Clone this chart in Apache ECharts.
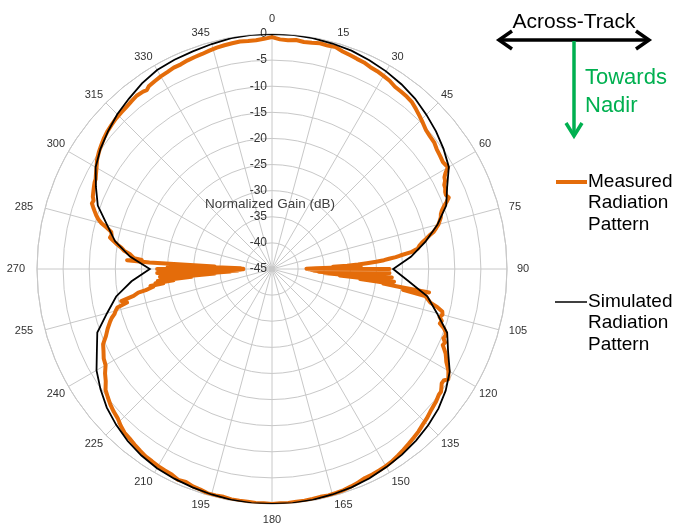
<!DOCTYPE html>
<html>
<head>
<meta charset="utf-8">
<script src="https://cdn.jsdelivr.net/npm/echarts@6/dist/echarts.min.js"></script>
<style>
html,body{margin:0;padding:0;background:#fff;}
#chart{width:677px;height:529px;}
</style>
</head>
<body>
<div id="chart"></div>
<script>
// ---- Data (angle in degrees, gain in dB) ----
const measuredAngle = [0,2,4,6,8,10,12,14,16,18,20,22,24,26,28,30,32,34,36,38,40,42,44,46,48,50,52,54,56,58,60,61,62,63,64,65,66,67,68,69,70,71,72,73,74,75,76,77,78,79,80,81,82,83,84,84.5,85,85.5,86,86.5,87,87.5,88,88.5,89,89.5,90,90.5,91,91.5,92,92.5,93,93.5,94,94.5,95,95.5,96,96.5,97,97.5,98,98.5,99,99.5,100,101,102,103,104,105,106,107,108,109,110,111,112,113,114,115,116,117,118,119,120,121,122,123,124,125,126,127,128,129,130,132,134,136,138,140,142,144,146,148,150,152,154,156,158,160,162,164,166,168,170,172,174,176,178,180,182,184,186,188,190,192,194,196,198,200,202,204,206,208,210,212,214,216,218,220,222,224,226,228,230,232,234,236,238,240,242,244,246,248,250,252,253,254,255,256,257,258,259,260,260.5,261,261.5,262,262.5,263,263.5,264,264.5,265,265.5,266,266.5,267,267.5,268,268.5,269,269.5,270,270.5,271,271.5,272,272.5,273,273.5,274,274.5,275,276,277,278,279,280,281,282,283,284,285,286,287,288,289,290,291,292,293,294,295,296,297,298,300,302,304,306,308,310,312,314,316,318,320,322,324,325,326,328,330,332,334,336,338,340,342,344,346,348,350,352,354,356,358,360];
const measuredGain = [-0.6,-1.0,-1.1,-0.9,-1.1,-1.0,-0.8,-0.9,-0.8,-1.2,-1.4,-1.6,-1.7,-2.0,-2.1,-2.3,-2.5,-2.9,-3.0,-3.1,-3.3,-3.8,-4.3,-4.8,-5.3,-5.5,-5.6,-6.0,-6.2,-6.4,-6.1,-7.0,-7.6,-7.8,-8.3,-8.4,-8.7,-8.8,-8.5,-9.2,-10.0,-10.6,-11.0,-11.2,-11.6,-12.0,-12.6,-13.2,-14.2,-15.0,-15.8,-16.4,-16.8,-18.0,-20.3,-21.2,-22.5,-23.5,-25,-26.8,-28.5,-30.6,-33.3,-28,-36.6,-38.4,-22.5,-38,-23,-37.5,-22.5,-37,-24,-36,-22,-35,-23,-32,-21.5,-28,-22.5,-23.5,-20.5,-14.6,-19.6,-19.4,-15.2,-14.6,-14.0,-12.5,-11.4,-11.2,-11.6,-11.0,-11.2,-10.2,-9.6,-9.4,-9.6,-9.0,-9.2,-8.6,-8.0,-7.6,-7.2,-6.6,-6.0,-5.6,-5.2,-5.8,-5.8,-5.4,-5.0,-5.0,-4.8,-4.6,-4.5,-4.2,-3.8,-3.5,-3.1,-2.8,-2.5,-2.2,-1.9,-1.6,-1.4,-1.3,-1.2,-1.2,-0.9,-0.7,-0.5,-0.4,-0.3,-0.4,-0.3,-0.2,-0.2,-0.1,-0.1,0,-0.1,-0.1,-0.2,-0.2,-0.2,-0.4,-0.3,-0.3,-0.6,-0.7,-1.0,-0.8,-1.2,-1.3,-1.4,-1.6,-1.7,-2.0,-2.3,-2.6,-2.8,-3.3,-3.9,-4.2,-4.6,-5.1,-5.6,-6.6,-7.3,-8.2,-8.5,-9.1,-9.6,-10.7,-11.5,-12.4,-12.9,-13.6,-14.0,-14.5,-16.5,-15.5,-18,-19,-20.5,-20.7,-22,-21.5,-24,-22.5,-26,-23,-29.5,-24,-34,-23.5,-37,-24.5,-38.5,-23,-39,-24,-39.5,-23,-39.5,-25,-39,-26,-34,-21.5,-17.2,-20,-18.5,-18.8,-17.6,-16.5,-15.9,-15,-14.2,-13.4,-13.6,-13.4,-12.4,-11.2,-10.4,-9.8,-9.3,-8.8,-8.3,-8.4,-8.0,-7.8,-7.6,-7.4,-7.2,-7.1,-6.8,-6.2,-5.5,-5.0,-4.6,-4.2,-3.9,-3.7,-3.5,-3.4,-3.3,-3.1,-2.9,-3.0,-3.2,-2.8,-2.6,-2.4,-2.3,-2.1,-2.1,-1.9,-1.8,-1.7,-1.5,-1.3,-1.2,-1.1,-1.0,-1.1,-1.1,-0.9,-0.6];

const simulatedAngle = [0,5,10,15,20,25,30,35,40,45,50,55,60,65,70,75,80,85,90,95,100,105,110,115,120,125,130,135,140,145,150,155,160,165,170,175,180,185,190,195,200,205,210,215,220,225,230,235,240,245,250,255,260,265,270,275,280,285,290,295,300,305,310,315,320,325,330,335,340,345,350,355,360];
const simulatedGain = [0,0,-0.1,-0.3,-0.5,-0.9,-1.3,-1.8,-2.4,-3.2,-4.0,-4.9,-5.9,-8.0,-9.5,-12.2,-15.2,-18.3,-21.8,-18.8,-14.8,-12.3,-9.3,-7.8,-5.7,-4.4,-3.4,-2.7,-2.1,-1.6,-1.2,-0.8,-0.5,-0.3,-0.1,0,0,0,-0.1,-0.3,-0.5,-0.7,-0.95,-1.4,-2.0,-2.8,-3.7,-4.9,-6.2,-8.0,-9.4,-12.3,-14.7,-18.0,-21.6,-17.7,-14.5,-12.3,-9.5,-7.8,-6.0,-4.9,-4.0,-3.1,-2.4,-1.6,-1.0,-0.8,-0.65,-0.4,-0.1,0,0];

const radiusMin = -45, radiusMax = 0, radiusStep = 5;
const angleStep = 15;
const seriesNames = ['Measured Radiation Pattern', 'Simulated Radiation Pattern'];
const axisTitle = 'Normalized Gain (dB)';

// ---- Chart ----
const chart = echarts.init(document.getElementById('chart'), null, {renderer: 'canvas'});
const FONT = '"Liberation Sans", Arial, sans-serif';
const gridColor = '#c8c8c8';
const labelColor = '#333';

const measuredData = measuredAngle.map((a, i) => [measuredGain[i], a]);
const simulatedData = simulatedAngle.map((a, i) => [simulatedGain[i], a]);

// label placement styles (Excel-like offsets)
function angleLabelStyle(v) {
  if (v === 0) return 'top0';
  if (v === 180) return 'bot0';
  if (v === 15 || v === 165) return 'shr';
  if (v === 345 || v === 195) return 'shl';
  if (v === 75 || v === 90 || v === 105) return 'pr';
  if (v === 255 || v === 270 || v === 285) return 'pl';
  return 'n';
}
const base = { color: labelColor, fontSize: 11, fontFamily: FONT };

chart.setOption({
  backgroundColor: '#fff',
  animation: false,
  polar: { center: [272, 269], radius: 235 },
  angleAxis: {
    type: 'value', min: 0, max: 360, interval: angleStep,
    startAngle: 90, clockwise: true,
    axisLine: { show: true, lineStyle: { color: gridColor, width: 1 } },
    axisTick: { show: false },
    splitLine: { show: true, lineStyle: { color: gridColor, width: 1 } },
    axisLabel: {
      margin: 4, color: labelColor, fontSize: 11, fontFamily: FONT,
      formatter: v => (v === 360 ? '' : '{' + angleLabelStyle(v) + '|' + v + '}'),
      rich: {
        n: Object.assign({}, base),
        top0: Object.assign({ padding: [0, 0, 6, 0] }, base),
        bot0: Object.assign({ padding: [6, 0, 0, 0] }, base),
        shr: Object.assign({ padding: [0, 0, 0, 19] }, base),
        shl: Object.assign({ padding: [0, 19, 0, 0] }, base),
        pr: Object.assign({ padding: [0, 0, 0, 6] }, base),
        pl: Object.assign({ padding: [0, 8, 0, 0] }, base)
      }
    }
  },
  radiusAxis: {
    type: 'value', min: radiusMin, max: radiusMax, interval: radiusStep,
    axisLine: { show: false },
    axisTick: { show: false },
    splitLine: { show: true, lineStyle: { color: gridColor, width: 1 } },
    axisLabel: { margin: 5, color: labelColor, fontSize: 12, fontFamily: FONT }
  },
  series: [
    {
      name: seriesNames[0], type: 'line', coordinateSystem: 'polar',
      data: measuredData, symbol: 'none', z: 3,
      lineStyle: { color: '#E46C0A', width: 4, join: 'round', cap: 'round' }
    },
    {
      name: seriesNames[1], type: 'line', coordinateSystem: 'polar',
      data: simulatedData, symbol: 'none', z: 4,
      lineStyle: { color: '#000', width: 1.8, join: 'miter' }
    }
  ],
  graphic: [
    { type: 'text', x: 270, y: 204, z: 10,
      style: { text: axisTitle, font: '13.5px ' + FONT, fill: '#404040', align: 'center', verticalAlign: 'middle' } },
    // Across-track arrow
    { type: 'line', z: 10, shape: { x1: 500, y1: 40, x2: 648, y2: 40 },
      style: { stroke: '#000', lineWidth: 3.5 } },
    { type: 'polyline', z: 10, shape: { points: [[512, 31], [499, 40], [512, 49]] },
      style: { stroke: '#000', lineWidth: 3.5, fill: null, lineJoin: 'miter' } },
    { type: 'polyline', z: 10, shape: { points: [[636, 31], [649, 40], [636, 49]] },
      style: { stroke: '#000', lineWidth: 3.5, fill: null, lineJoin: 'miter' } },
    { type: 'text', x: 574, y: 22, z: 10,
      style: { text: 'Across-Track', font: '21px ' + FONT, fill: '#000', align: 'center', verticalAlign: 'middle' } },
    // Towards nadir arrow
    { type: 'line', z: 10, shape: { x1: 574, y1: 41, x2: 574, y2: 135 },
      style: { stroke: '#00B050', lineWidth: 3.5 } },
    { type: 'polyline', z: 10, shape: { points: [[566, 123], [574, 136], [582, 123]] },
      style: { stroke: '#00B050', lineWidth: 3.5, fill: null } },
    { type: 'text', x: 585, y: 64, z: 10,
      style: { text: 'Towards\nNadir', font: '22px ' + FONT, fill: '#00B050', lineHeight: 28 } },
    // Legend
    { type: 'line', z: 10, shape: { x1: 556, y1: 182, x2: 587, y2: 182 },
      style: { stroke: '#E46C0A', lineWidth: 4 } },
    { type: 'text', x: 588, y: 171, z: 10,
      style: { text: 'Measured\nRadiation\nPattern', font: '19px ' + FONT, fill: '#000', lineHeight: 21.5 } },
    { type: 'line', z: 10, shape: { x1: 555, y1: 302, x2: 587, y2: 302 },
      style: { stroke: '#000', lineWidth: 1.5 } },
    { type: 'text', x: 588, y: 291, z: 10,
      style: { text: 'Simulated\nRadiation\nPattern', font: '19px ' + FONT, fill: '#000', lineHeight: 21.5 } }
  ]
});
</script>
</body>
</html>
